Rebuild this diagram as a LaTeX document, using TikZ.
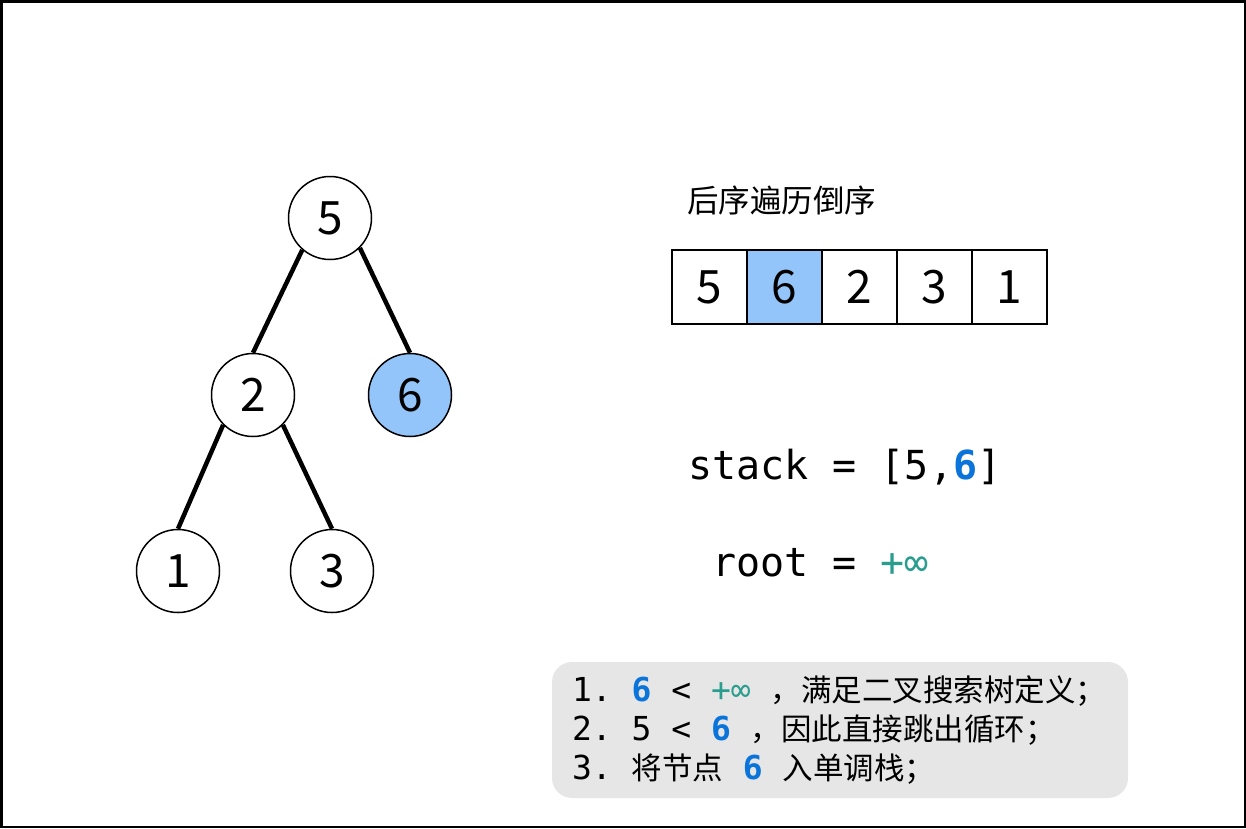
\documentclass[tikz,border=0pt]{standalone}
\usepackage{fontspec}
\setmonofont{DejaVu Sans Mono}
\newfontfamily\cjk{Noto Sans CJK SC}
\usetikzlibrary{positioning}
\definecolor{nodeblue}{HTML}{93C5FA}
\definecolor{numblue}{HTML}{0A74DA}
\definecolor{infgreen}{HTML}{2A9D8F}
\definecolor{notegray}{HTML}{E6E6E6}
\tikzset{
  treenode/.style={circle, draw=black, line width=1.5pt, minimum size=83pt, inner sep=0pt, fill=white, font=\cjk\fontsize{46}{46}\selectfont},
  hitnode/.style={treenode, fill=nodeblue},
  cell/.style={draw=black, line width=2pt, minimum width=75pt, minimum height=74pt, inner sep=0pt, outer sep=0pt, fill=white, font=\cjk\fontsize{46}{46}\selectfont},
  hitcell/.style={cell, fill=nodeblue},
  edge/.style={line width=4.5pt, draw=black},
  label/.style={inner sep=0pt, anchor=west},
  notebox/.style={fill=notegray, rounded corners=20pt, minimum width=576pt, minimum height=136pt, inner sep=0pt},
  notetext/.style={inner sep=0pt, anchor=west, align=left, font=\ttfamily\fontsize{33}{39}\selectfont}
}
\newcommand{\hl}[1]{{\bfseries\color{numblue}#1}}
\newcommand{\posinf}{{\color{infgreen}+∞}}
\newcommand{\zh}[1]{{\cjk\fontsize{30.5}{39}\selectfont #1}}

\begin{document}
\frenchspacing
\begin{tikzpicture}[x=1pt, y=-1pt]
  \useasboundingbox (0,0) rectangle (1246,828);
  \draw[line width=2.5pt] (1.25,1.25) rectangle (1244.75,826.75);

  % tree
  \node[treenode] (n5) at (330,218) {5};
  \node[treenode] (n2) at (253,395) {2};
  \node[hitnode]  (n6) at (410,395) {6};
  \node[treenode] (n1) at (178,571) {1};
  \node[treenode] (n3) at (332,571) {3};

  \draw[edge] (n5.229) -- (n2.north);
  \draw[edge] (n5.315) -- (n6.north);
  \draw[edge] (n2.225) -- (n1.north);
  \draw[edge] (n2.315) -- (n3.north);

  % reversed post-order array
  \node[label, font=\cjk\fontsize{31.5}{31.5}\selectfont] (title) at (687,200) {后序遍历倒序};
  \node[cell] (c1) at (709.5,287) {5};
  \node[hitcell, right=0pt of c1] (c2) {6};
  \node[cell, right=0pt of c2] (c3) {2};
  \node[cell, right=0pt of c3] (c4) {3};
  \node[cell, right=0pt of c4] (c5) {1};

  % stack and root
  \node[label, font=\ttfamily\fontsize{40}{40}\selectfont] (stack) at (688,467) {stack = [5,\hl{6}]};
  \node[label, font=\ttfamily\fontsize{40}{40}\selectfont] (root) at (712,563) {root = \posinf};

  % notes
  \node[notebox] (box) at (840,730) {};
  \node[notetext] (tips) at ([xshift=20pt]box.west) {1. \hl{6} < \posinf{} \zh{，满足二叉搜索树定义；}\\
    2. 5 < \hl{6} \zh{，因此直接跳出循环；}\\
    3. \zh{将节点} \hl{6} \zh{入单调栈；}};
\end{tikzpicture}
\end{document}
